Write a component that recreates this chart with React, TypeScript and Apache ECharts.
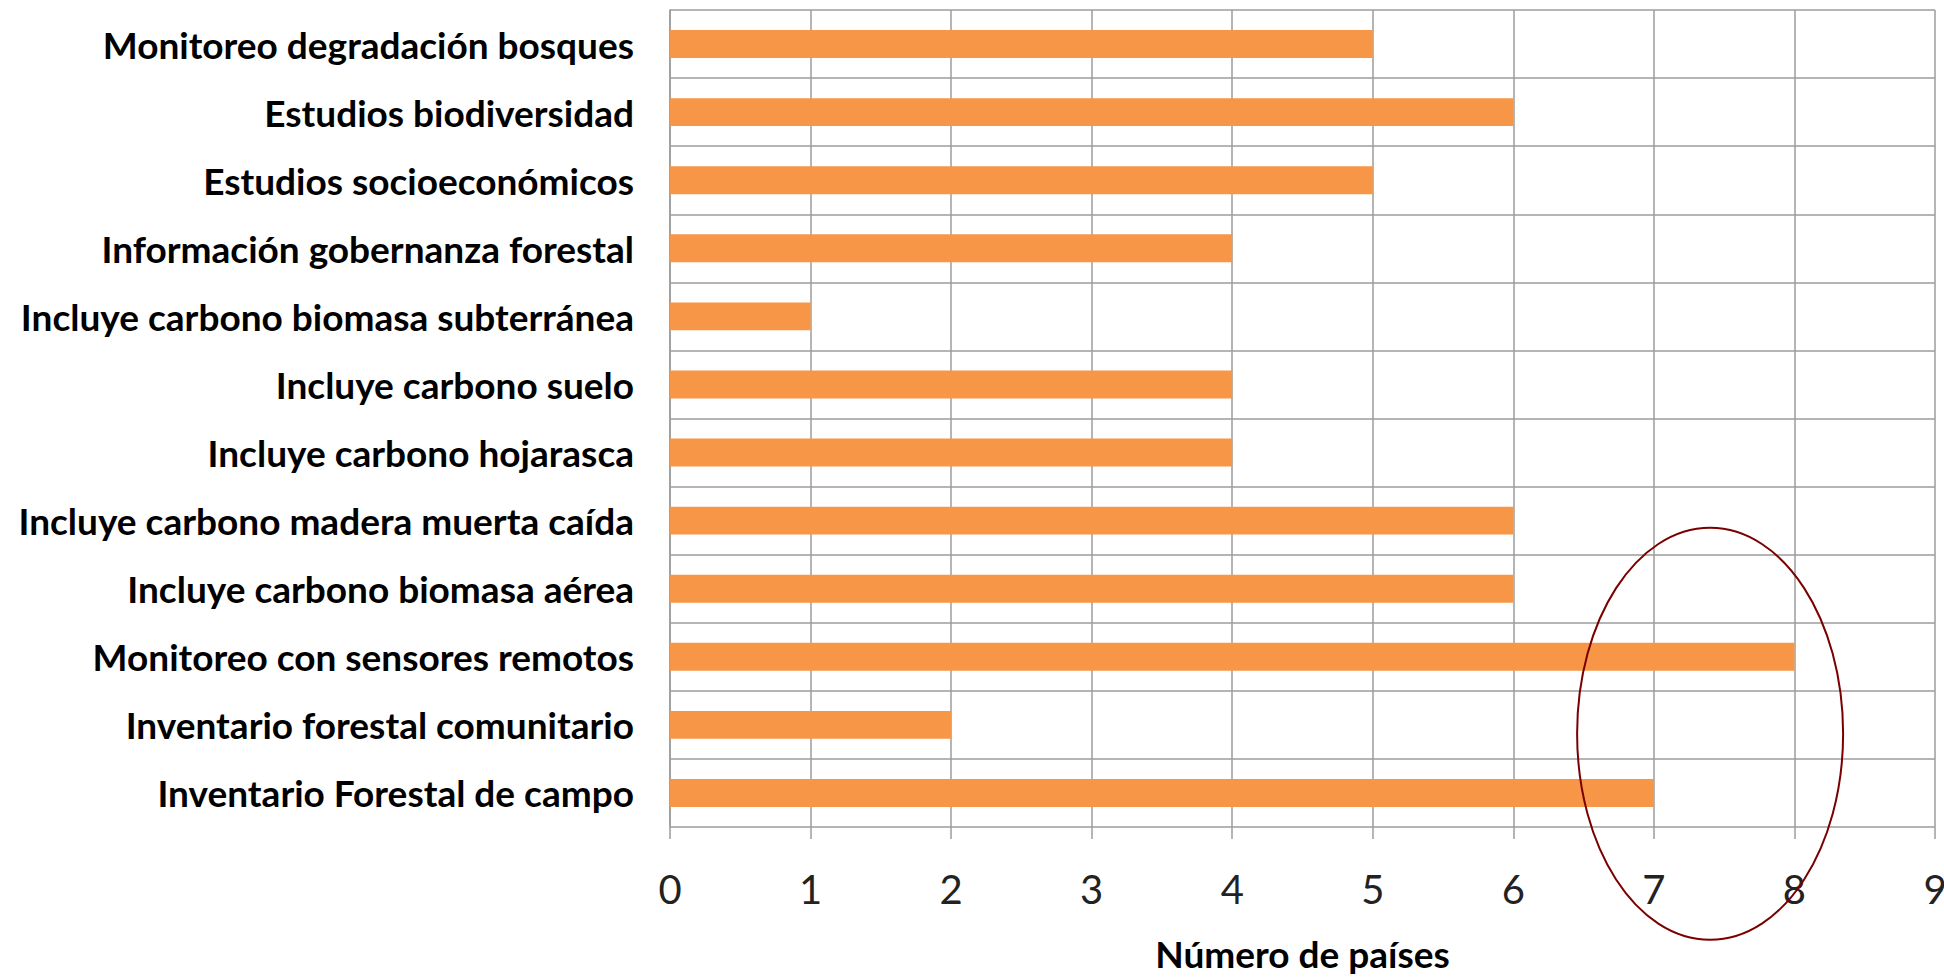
import React, { useEffect, useRef } from "react";
import * as echarts from "echarts";

const categories = [
  "Monitoreo degradación bosques",
  "Estudios biodiversidad",
  "Estudios socioeconómicos",
  "Información gobernanza forestal",
  "Incluye carbono biomasa subterránea",
  "Incluye carbono suelo",
  "Incluye carbono hojarasca",
  "Incluye carbono madera muerta caída",
  "Incluye carbono biomasa aérea",
  "Monitoreo con sensores remotos",
  "Inventario forestal comunitario",
  "Inventario Forestal de campo",
];
const values = [5, 6, 5, 4, 1, 4, 4, 6, 6, 8, 2, 7];
const axisTitle = "Número de países";
const xMin = 0;
const xMax = 9;
const xInterval = 1;

const FONT = "Lato, 'Open Sans', sans-serif";

export default function App() {
  const ref = useRef<HTMLDivElement>(null);
  useEffect(() => {
    document.body.style.margin = "0";
    if (!ref.current) return;
    const chart = echarts.init(ref.current, null, { renderer: "svg" });
    const gridColor = "#9c9c9c";
    chart.setOption({
      animation: false,
      backgroundColor: "#ffffff",
      grid: { left: 670, right: 9, top: 10, bottom: 151, containLabel: false, outerBoundsMode: "none" },
      xAxis: {
        type: "value",
        min: xMin,
        max: xMax,
        interval: xInterval,
        name: axisTitle,
        nameLocation: "middle",
        nameGap: 108,
        nameTextStyle: { fontFamily: FONT, fontSize: 37, fontWeight: "bold", color: "#000" },
        axisLine: { show: false },
        axisTick: { show: true, length: 12, lineStyle: { color: gridColor, width: 1.5 } },
        axisLabel: { fontFamily: FONT, fontSize: 40, color: "#222", margin: 42 },
        splitLine: { show: true, lineStyle: { color: gridColor, width: 1.5 } },
      },
      yAxis: {
        type: "category",
        data: categories,
        inverse: true,
        axisLine: { show: true, lineStyle: { color: gridColor, width: 1.5 } },
        axisTick: { show: false },
        axisLabel: { fontFamily: FONT, fontSize: 37, fontWeight: "bold", color: "#000", margin: 36 },
        splitLine: { show: true, lineStyle: { color: gridColor, width: 1.5 } },
      },
      series: [
        {
          type: "bar",
          data: values,
          barWidth: "41%",
          itemStyle: { color: "#F79646" },
        },
      ],
    });
    const c = chart.convertToPixel({ gridIndex: 0 }, [7.4, 8.5]) as number[];
    chart.setOption({
      graphic: [
        {
          type: "ellipse",
          shape: { cx: c[0], cy: c[1] + 77, rx: 133, ry: 206 },
          style: { fill: "none", stroke: "#7a0000", lineWidth: 2 },
          z: 100,
        },
      ],
    });
    return () => chart.dispose();
  }, []);
  return <div ref={ref} style={{ width: 1944, height: 978 }} />;
}
